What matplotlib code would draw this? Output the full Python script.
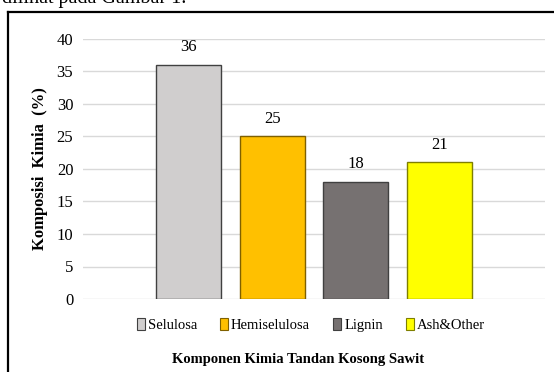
import matplotlib.pyplot as plt
from matplotlib.patches import Patch
from matplotlib.lines import Line2D

components = ["Selulosa", "Hemiselulosa", "Lignin", "Ash&Other"]
values = [36, 25, 18, 21]
colors = ["#D0CECE", "#FFC000", "#767171", "#FFFF00"]
edges = ["#404040", "#7F6000", "#404040", "#7F7F00"]
yticks = [0, 5, 10, 15, 20, 25, 30, 35, 40]

plt.rcParams['font.family'] = ['Liberation Serif', 'DejaVu Serif']

W, H = 554, 372
fig = plt.figure(figsize=(W / 100, H / 100), dpi=100)

# page text cut off above the chart frame, and the frame itself
fig.text(2 / W, 1 - 3 / H, "dilihat pada Gambar 1.", fontsize=14.5,
         ha='left', va='baseline')
fig.add_artist(Line2D([8 / W, 8 / W], [0, 1 - 11.5 / H], color='black',
                      lw=1.6, transform=fig.transFigure))
fig.add_artist(Line2D([8 / W, 1], [1 - 11.5 / H, 1 - 11.5 / H], color='black',
                      lw=1.6, transform=fig.transFigure))

ax = fig.add_axes([83 / W, 1 - 299 / H, (545 - 83) / W, 260 / H])
x = range(len(components))
bars = ax.bar(x, values, width=0.78, color=colors, edgecolor=edges,
              linewidth=1.0, zorder=3)
for xi, v in zip(x, values):
    ax.annotate(str(v), (xi, v), xytext=(0, 7), textcoords='offset points',
                ha='center', va='bottom', fontsize=12)

ax.set_xlim(-1.27, 4.27)
ax.set_ylim(0, 40)
ax.set_yticks(yticks)
ax.set_xticks([])
ax.yaxis.grid(True, color='#D9D9D9', lw=1.0, zorder=0)
for s in ax.spines.values():
    s.set_visible(False)
ax.tick_params(axis='y', length=0, pad=7, labelsize=12)

ax.set_ylabel("Komposisi  Kimia  (%)", fontsize=12, fontweight='bold', labelpad=6)

handles = [Patch(facecolor=c, edgecolor=e, lw=0.8) for c, e in zip(colors, edges)]
fig.legend(handles, components, loc='center', bbox_to_anchor=(311 / W, 1 - 325 / H),
           ncol=4, frameon=False, fontsize=10.5, handlelength=0.55,
           handleheight=0.85, handletextpad=0.2, columnspacing=1.6)
fig.text(298 / W, 1 - 360 / H, "Komponen Kimia Tandan Kosong Sawit",
         fontsize=10.5, fontweight='bold', ha='center', va='center')

fig.savefig("out.png", dpi=100)
